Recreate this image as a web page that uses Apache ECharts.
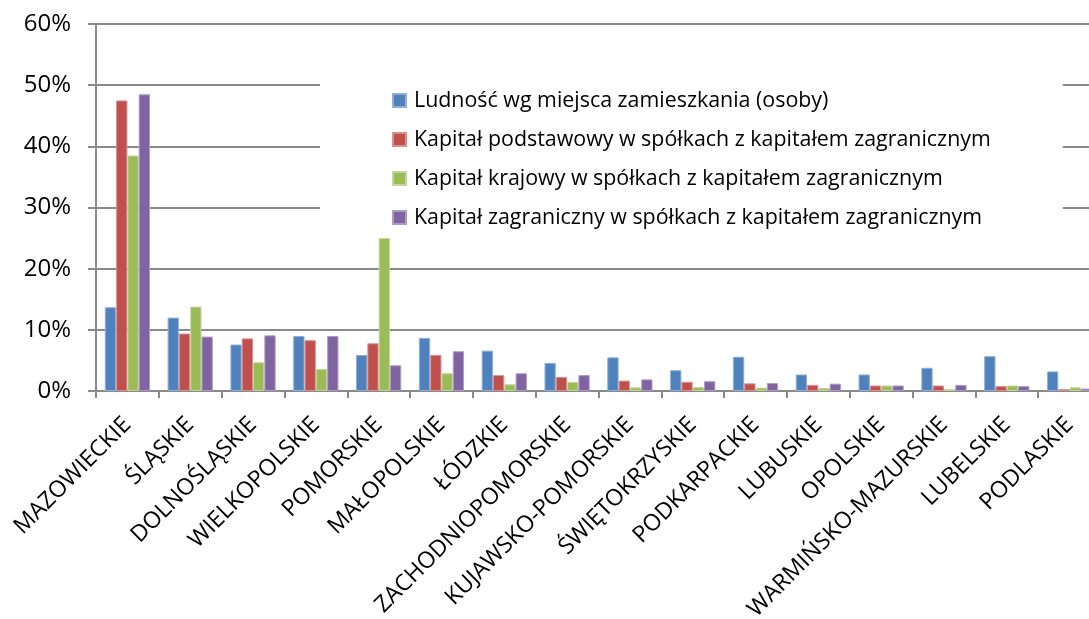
<!DOCTYPE html>
<html>
<head>
<meta charset="utf-8">
<script src="https://cdn.jsdelivr.net/npm/echarts@6/dist/echarts.min.js"></script>
<style>
html,body{margin:0;padding:0;background:#fff;}
#c{width:1089px;height:619px;}
</style>
</head>
<body>
<div id="c"></div>
<script>
const categories = ["MAZOWIECKIE","ŚLĄSKIE","DOLNOŚLĄSKIE","WIELKOPOLSKIE","POMORSKIE","MAŁOPOLSKIE","ŁÓDZKIE","ZACHODNIOPOMORSKIE","KUJAWSKO-POMORSKIE","ŚWIĘTOKRZYSKIE","PODKARPACKIE","LUBUSKIE","OPOLSKIE","WARMIŃSKO-MAZURSKIE","LUBELSKIE","PODLASKIE"];
const seriesNames = [
  "Ludność wg miejsca zamieszkania (osoby)",
  "Kapitał podstawowy w spółkach z kapitałem zagranicznym",
  "Kapitał krajowy w spółkach z kapitałem zagranicznym",
  "Kapitał zagraniczny w spółkach z kapitałem zagranicznym"
];
const ludnosc      = [13.7, 12.0, 7.6, 9.0, 5.9, 8.7, 6.6, 4.6, 5.5, 3.4, 5.6, 2.7, 2.7, 3.8, 5.7, 3.2];
const kapPodst     = [47.5, 9.4, 8.6, 8.3, 7.8, 5.9, 2.6, 2.3, 1.7, 1.5, 1.25, 1.0, 0.9, 0.9, 0.8, 0.3];
const kapKrajowy   = [38.5, 13.8, 4.7, 3.6, 25.0, 2.9, 1.1, 1.5, 0.6, 0.65, 0.55, 0.5, 0.9, 0.3, 0.9, 0.6];
const kapZagr      = [48.5, 8.9, 9.1, 9.0, 4.2, 6.5, 2.9, 2.6, 1.9, 1.6, 1.3, 1.2, 0.9, 1.0, 0.8, 0.4];
const yTicks = [0, 10, 20, 30, 40, 50, 60];
const colors = ["#4F81BD", "#C0504D", "#9BBB59", "#8064A2"];
const borderColors = ["#8fb0d8", "#dc8f8d", "#c3d79c", "#ad9cc6"];

const FONT = "'Open Sans', sans-serif";
const axisGray = "#8a8a8a";
const values = [ludnosc, kapPodst, kapKrajowy, kapZagr];

const chart = echarts.init(document.getElementById('c'), null, {renderer: 'canvas'});
chart.setOption({
  animation: false,
  backgroundColor: '#ffffff',
  color: colors,
  grid: {left: 96, right: -12, top: 24, bottom: 228, containLabel: false, outerBoundsMode: 'none'},
  legend: {
    orient: 'vertical',
    left: 320, top: 70,
    padding: [20, 72, 5, 72],
    backgroundColor: '#ffffff',
    itemWidth: 13, itemHeight: 13,
    itemGap: 18,
    icon: 'rect',
    data: seriesNames,
    textStyle: {fontFamily: FONT, fontSize: 21.4, color: '#000', lineHeight: 21, padding: [0,0,0,3]}
  },
  xAxis: {
    type: 'category',
    data: categories,
    axisLine: {lineStyle: {color: axisGray, width: 2}},
    axisTick: {show: true, length: 7, lineStyle: {color: axisGray, width: 2}},
    axisLabel: {rotate: 45, interval: 0, margin: 30, fontFamily: FONT, fontSize: 23, color: '#000'},
    splitLine: {show: false}
  },
  yAxis: {
    type: 'value',
    min: yTicks[0], max: yTicks[yTicks.length - 1], interval: 10,
    axisLine: {show: true, lineStyle: {color: axisGray, width: 2}},
    axisTick: {show: true, length: 8, lineStyle: {color: axisGray, width: 2}},
    axisLabel: {formatter: '{value}%', margin: 25, fontFamily: FONT, fontSize: 24, color: '#000'},
    splitLine: {show: true, lineStyle: {color: axisGray, width: 2}}
  },
  series: seriesNames.map((n, i) => ({
    name: n,
    type: 'bar',
    data: values[i],
    barGap: '0%',
    barCategoryGap: '28%',
    itemStyle: {color: colors[i], borderColor: borderColors[i], borderWidth: 1}
  }))
});
</script>
</body>
</html>
